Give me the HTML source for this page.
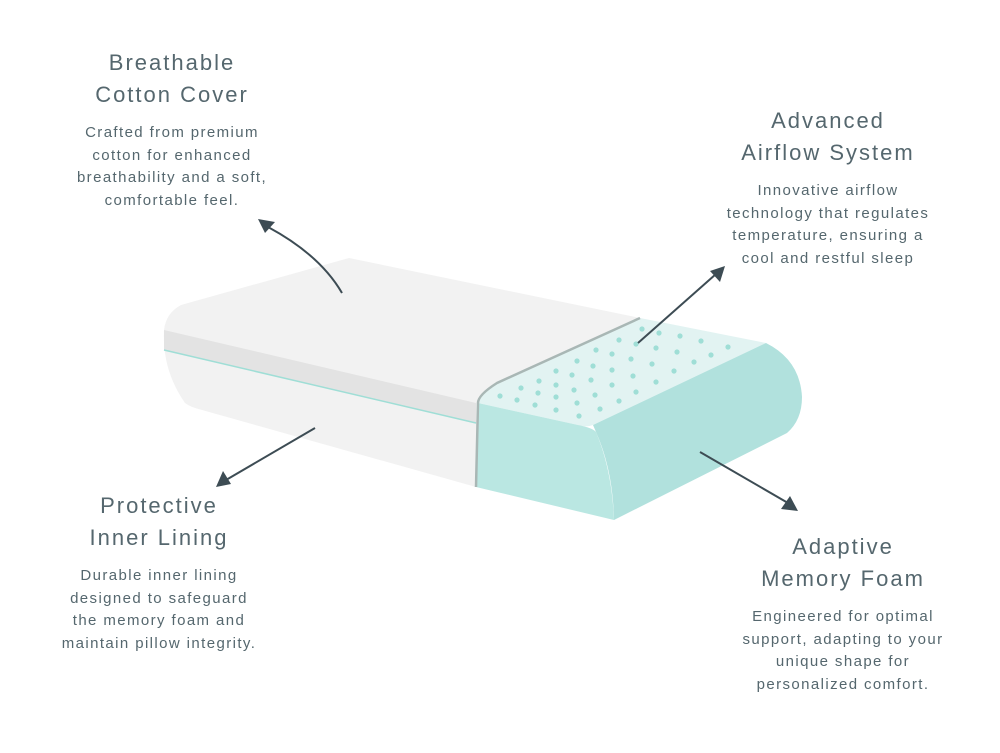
<!DOCTYPE html>
<html><head><meta charset="utf-8"><style>
html,body{margin:0;padding:0;background:#fff;}
body{width:1000px;height:753px;position:relative;overflow:hidden;font-family:"Liberation Sans",sans-serif;color:#4a5c63;}
.b{position:absolute;text-align:center;}
.t{font-size:22px;line-height:32px;letter-spacing:2px;color:#55676e;}
.d{font-size:15px;line-height:22.5px;letter-spacing:1.4px;margin-top:11px;color:#55676e;}
</style></head><body>
<svg width="1000" height="753" style="position:absolute;left:0;top:0">
<path d="M181,305 L349,258 L640,318 L497,383 Q478,395 478,403 L476,487 L202,410 Q190,407 185,403 Q162,370 164,330 Q166,313 181,305 Z" fill="#f2f2f2"/>
<path d="M164,330 L476,403 L476,423 L164,350 Z" fill="#e3e3e3"/>
<path d="M164,350 L476,423" stroke="#9fded6" stroke-width="1.5"/>
<path d="M640,318 L766,343 L593,425 Q585,428 578,425 L478,403 Q480,390 497,383 Z" fill="#e2f3f2"/>
<path d="M478,403 L578,425 Q593,428 596,432 Q612,470 614,520 L476,487 Z" fill="#bae7e2"/>
<path d="M593,425 L766,343 Q800,360 802,397 Q802,420 787,433 L614,520 Q613,470 596,432 Z" fill="#b1e1dd"/>
<path d="M640,318 L497,383 Q478,395 478,403 L476,487" fill="none" stroke="#a9b7b5" stroke-width="2.5"/>
<g fill="#9fded6">
<circle cx="642" cy="329" r="2.6"/><circle cx="659" cy="333" r="2.6"/><circle cx="619" cy="340" r="2.6"/><circle cx="636" cy="344" r="2.6"/><circle cx="680" cy="336" r="2.6"/><circle cx="701" cy="341" r="2.6"/><circle cx="728" cy="347" r="2.6"/><circle cx="596" cy="350" r="2.6"/><circle cx="612" cy="354" r="2.6"/><circle cx="656" cy="348" r="2.6"/><circle cx="677" cy="352" r="2.6"/><circle cx="711" cy="355" r="2.6"/><circle cx="577" cy="361" r="2.6"/><circle cx="593" cy="366" r="2.6"/><circle cx="631" cy="359" r="2.6"/><circle cx="652" cy="364" r="2.6"/><circle cx="694" cy="362" r="2.6"/><circle cx="556" cy="371" r="2.6"/><circle cx="572" cy="375" r="2.6"/><circle cx="591" cy="380" r="2.6"/><circle cx="612" cy="370" r="2.6"/><circle cx="633" cy="376" r="2.6"/><circle cx="674" cy="371" r="2.6"/><circle cx="539" cy="381" r="2.6"/><circle cx="556" cy="385" r="2.6"/><circle cx="574" cy="390" r="2.6"/><circle cx="612" cy="385" r="2.6"/><circle cx="656" cy="382" r="2.6"/><circle cx="521" cy="388" r="2.6"/><circle cx="538" cy="393" r="2.6"/><circle cx="556" cy="397" r="2.6"/><circle cx="577" cy="403" r="2.6"/><circle cx="595" cy="395" r="2.6"/><circle cx="636" cy="392" r="2.6"/><circle cx="500" cy="396" r="2.6"/><circle cx="517" cy="400" r="2.6"/><circle cx="535" cy="405" r="2.6"/><circle cx="556" cy="410" r="2.6"/><circle cx="579" cy="416" r="2.6"/><circle cx="600" cy="409" r="2.6"/><circle cx="619" cy="401" r="2.6"/>
</g>
<g stroke="#3d4c54" stroke-width="2" fill="none">
<path d="M342,293 Q320,255 268,227"/>
<path d="M638,343 L716,274"/>
<path d="M315,428 L226,480"/>
<path d="M700,452 L788,503"/>
</g>
<g fill="#3d4c54">
<path d="M258,219 L275,222 L265,233 Z"/>
<path d="M725,266 L720,282 L710,271 Z"/>
<path d="M216,487 L223,471 L231,484 Z"/>
<path d="M798,511 L781,509 L790,496 Z"/>
</g>
</svg>
<div class="b" style="left:22px;width:300px;top:47px"><div class="t">Breathable<br>Cotton Cover</div><div class="d">Crafted from premium<br>cotton for enhanced<br>breathability and a soft,<br>comfortable feel.</div></div>
<div class="b" style="left:678px;width:300px;top:105px"><div class="t">Advanced<br>Airflow System</div><div class="d">Innovative airflow<br>technology that regulates<br>temperature, ensuring a<br>cool and restful sleep</div></div>
<div class="b" style="left:9px;width:300px;top:490px"><div class="t">Protective<br>Inner Lining</div><div class="d">Durable inner lining<br>designed to safeguard<br>the memory foam and<br>maintain pillow integrity.</div></div>
<div class="b" style="left:693px;width:300px;top:531px"><div class="t">Adaptive<br>Memory Foam</div><div class="d">Engineered for optimal<br>support, adapting to your<br>unique shape for<br>personalized comfort.</div></div>
</body></html>
